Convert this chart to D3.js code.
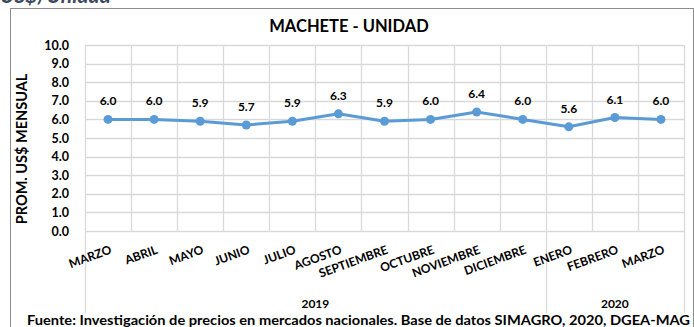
<!DOCTYPE html>
<html>
<head>
<meta charset="utf-8">
<script src="https://cdn.jsdelivr.net/npm/d3@7"></script>
<style>
  html, body { margin: 0; padding: 0; background: #fff; }
  svg { display: block; font-family: Lato, "Open Sans", sans-serif; }
</style>
</head>
<body>
<svg id="chart" width="694" height="327"></svg>
<script>
// Monthly average price of a machete (US$ per unit)
const months = ["MARZO", "ABRIL", "MAYO", "JUNIO", "JULIO", "AGOSTO", "SEPTIEMBRE",
                "OCTUBRE", "NOVIEMBRE", "DICIEMBRE", "ENERO", "FEBRERO", "MARZO"];
const years = ["2019", "2019", "2019", "2019", "2019", "2019", "2019",
               "2019", "2019", "2019", "2020", "2020", "2020"];
const prices = [6.0, 6.0, 5.9, 5.7, 5.9, 6.3, 5.9, 6.0, 6.4, 6.0, 5.6, 6.1, 6.0];
const yTicks = [0, 1, 2, 3, 4, 5, 6, 7, 8, 9, 10];

const svg = d3.select("#chart");
const plot = { left: 85, right: 684, top: 45, bottom: 231 };

const keys = months.map((m, i) => i);
const x = d3.scaleBand().domain(keys).range([plot.left, plot.right]).padding(0);
const y = d3.scaleLinear().domain([0, 10]).range([plot.bottom, plot.top]);

// Page heading partly above the frame
svg.append("text")
  .attr("x", 0).attr("y", 3)
  .attr("font-size", 21).attr("font-weight", 700).attr("font-style", "italic")
  .attr("fill", "#3b4a5a")
  .text("US$/Unidad");

// Chart frame
svg.append("rect")
  .attr("x", 10.5).attr("y", 8.5).attr("width", 683).attr("height", 340)
  .attr("fill", "none").attr("stroke", "#8c8c8c").attr("stroke-width", 1);

// Horizontal gridlines
svg.append("g").selectAll("line").data(yTicks).join("line")
  .attr("x1", plot.left).attr("x2", plot.right)
  .attr("y1", d => Math.round(y(d)) + 0.5).attr("y2", d => Math.round(y(d)) + 0.5)
  .attr("stroke", "#d9d9d9").attr("stroke-width", 1.3);

// Vertical gridlines at category boundaries
const bounds = keys.map(k => x(k)).concat([x.range()[1]]);
svg.append("g").selectAll("line").data(bounds).join("line")
  .attr("x1", d => Math.round(d) + 0.5).attr("x2", d => Math.round(d) + 0.5)
  .attr("y1", plot.top).attr("y2", plot.bottom)
  .attr("stroke", "#d9d9d9").attr("stroke-width", 1.3);

// Year group separators below the axis
const groupEdges = [0];
years.forEach((yr, i) => { if (i > 0 && yr !== years[i - 1]) groupEdges.push(i); });
const edgeX = groupEdges.map(i => x(i)).concat([x.range()[1]]);
svg.append("g").selectAll("line").data(edgeX).join("line")
  .attr("x1", d => Math.round(d) + 0.5).attr("x2", d => Math.round(d) + 0.5)
  .attr("y1", plot.bottom).attr("y2", 313)
  .attr("stroke", "#d9d9d9").attr("stroke-width", 1.3);

// Year labels centred under each group
const yearNames = Array.from(new Set(years));
svg.append("g").selectAll("text").data(yearNames).join("text")
  .attr("x", yr => {
    const idx = years.map((v, i) => v === yr ? i : -1).filter(i => i >= 0);
    return (x(idx[0]) + x(idx[idx.length - 1]) + x.bandwidth()) / 2;
  })
  .attr("y", 308)
  .attr("text-anchor", "middle")
  .attr("font-size", 12).attr("font-weight", 700).attr("fill", "#000")
  .text(d => d);

// Y axis
const yAxis = svg.append("g")
  .attr("transform", `translate(${plot.left},0)`)
  .call(d3.axisLeft(y).tickValues(yTicks).tickFormat(d3.format(".1f")).tickSize(0).tickPadding(16));
yAxis.select(".domain").remove();
yAxis.selectAll("text")
  .attr("font-family", "Lato, sans-serif")
  .attr("font-size", 12.5).attr("font-weight", 700).attr("fill", "#000");

// Month labels, rotated
svg.append("g").selectAll("text").data(keys).join("text")
  .attr("transform", k => `translate(${x(k) + x.bandwidth() / 2 + 1},${244}) rotate(-20)`)
  .attr("text-anchor", "end")
  .attr("dy", "0.8em")
  .attr("font-size", 12).attr("font-weight", 700).attr("fill", "#000")
  .text(k => months[k]);

// Y axis title
svg.append("text")
  .attr("transform", "translate(27,149) rotate(-90)")
  .attr("text-anchor", "middle")
  .attr("font-size", 14.5).attr("font-weight", 700).attr("fill", "#000")
  .text("PROM. US$ MENSUAL");

// Chart title
svg.append("text")
  .attr("x", 349).attr("y", 32)
  .attr("text-anchor", "middle")
  .attr("font-size", 16.5).attr("font-weight", 700).attr("fill", "#000")
  .text("MACHETE - UNIDAD");

// Price line
const line = d3.line()
  .x((d, i) => x(i) + x.bandwidth() / 2)
  .y(d => y(d));
svg.append("path")
  .datum(prices)
  .attr("d", line)
  .attr("fill", "none")
  .attr("stroke", "#5b9bd5").attr("stroke-width", 3)
  .attr("stroke-linejoin", "round");

svg.append("g").selectAll("circle").data(prices).join("circle")
  .attr("cx", (d, i) => x(i) + x.bandwidth() / 2)
  .attr("cy", d => y(d))
  .attr("r", 4.5)
  .attr("fill", "#5b9bd5");

// Value labels
svg.append("g").selectAll("text").data(prices).join("text")
  .attr("x", (d, i) => x(i) + x.bandwidth() / 2)
  .attr("y", d => y(d) - 14)
  .attr("text-anchor", "middle")
  .attr("font-size", 12).attr("font-weight", 700).attr("fill", "#000")
  .text(d => d3.format(".1f")(d));

// Source note
svg.append("text")
  .attr("x", 27).attr("y", 325)
  .attr("textLength", 663).attr("lengthAdjust", "spacingAndGlyphs")
  .attr("font-size", 13.5).attr("font-weight", 700).attr("fill", "#000")
  .text("Fuente: Investigación de precios en mercados nacionales. Base de datos SIMAGRO, 2020, DGEA-MAG");
</script>
</body>
</html>
